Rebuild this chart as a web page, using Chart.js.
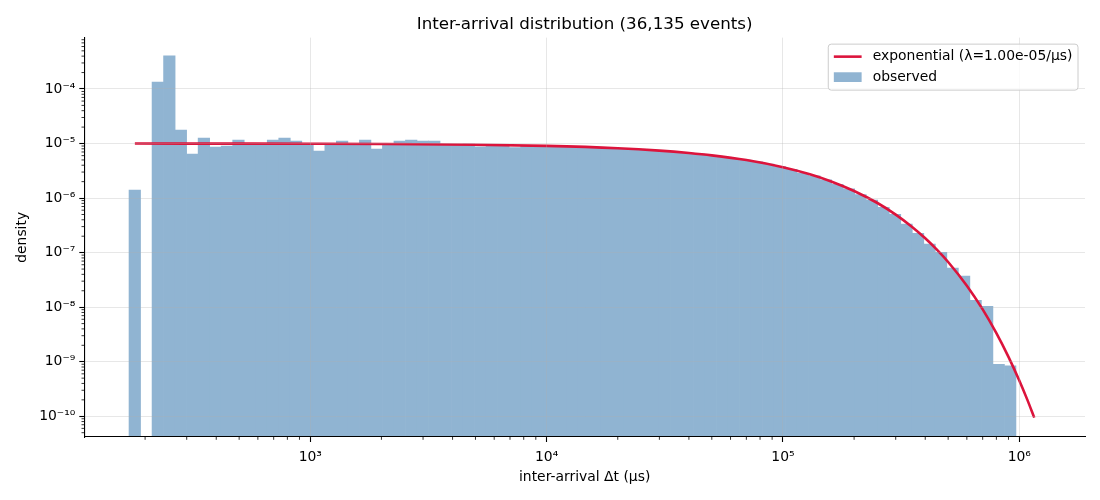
<!DOCTYPE html>
<html>
<head>
<meta charset="utf-8">
<script src="https://cdn.jsdelivr.net/npm/chart.js@4.4.1/dist/chart.umd.min.js"></script>
<style>
  html, body { margin: 0; padding: 0; background: #fff; }
  #wrap { width: 1100px; height: 500px; }
</style>
</head>
<body>
<div id="wrap"><canvas id="myChart" width="1100" height="500"></canvas></div>
<script>
// log-spaced histogram bins (edges from the smallest to the largest gap, in µs)
var binLo = 171;
var binHi = 9.68e5;
var binCount = 77;

// observed density per bin
var observedDensity = [
    1.40e-6, 0, 1.34e-4, 4.04e-4, 1.77e-5, 6.42e-6, 1.26e-5, 8.63e-6, 9.0e-6, 1.16e-5,
    1.0e-5, 1.0e-5, 1.16e-5, 1.26e-5, 1.11e-5, 9.9e-6, 7.28e-6, 9.9e-6, 1.11e-5, 1.0e-5,
    1.16e-5, 7.9e-6, 9.9e-6, 1.11e-5, 1.16e-5, 1.11e-5, 1.11e-5, 9.6e-6, 9.5e-6, 9.8e-6,
    8.74e-6, 9.4e-6, 9.3e-6, 8.4e-6, 9.2e-6, 9.1e-6, 9.0e-6, 8.9e-6, 8.8e-6, 8.2e-6,
    8.5e-6, 8.3e-6, 8.1e-6, 7.95e-6, 7.7e-6, 7.5e-6, 6.9e-6, 7.0e-6, 6.7e-6, 6.4e-6,
    6.05e-6, 5.7e-6, 5.35e-6, 4.98e-6, 4.6e-6, 4.18e-6, 3.77e-6, 3.35e-6, 2.84e-6, 2.55e-6,
    2.17e-6, 1.79e-6, 1.48e-6, 1.16e-6, 9.2e-7, 6.75e-7, 5.02e-7, 3.34e-7, 2.25e-7, 1.43e-7,
    1.01e-7, 5.20e-8, 3.71e-8, 1.34e-8, 1.04e-8, 9.0e-10, 8.4e-10
];

// fitted exponential curve, sampled along x
var fitX = [181, 300, 500, 1000, 2000, 5000, 10000, 20000, 30000, 40000,
    50000, 70000, 100000, 130000, 160000, 200000, 250000, 300000, 350000, 400000,
    450000, 500000, 600000, 700000, 800000, 900000, 1000000, 1080000, 1157000];
var fitY = [9.98e-6, 9.97e-6, 9.95e-6, 9.90e-6, 9.80e-6, 9.51e-6, 9.05e-6, 8.19e-6, 7.41e-6, 6.70e-6,
    6.07e-6, 4.97e-6, 3.68e-6, 2.73e-6, 2.02e-6, 1.35e-6, 8.21e-7, 4.98e-7, 3.02e-7, 1.83e-7,
    1.11e-7, 6.74e-8, 2.48e-8, 9.12e-9, 3.35e-9, 1.23e-9, 4.54e-10, 2.04e-10, 9.44e-11];

var xMajorTicks = [1e3, 1e4, 1e5, 1e6];
var xMajorLabels = ['10³', '10⁴', '10⁵', '10⁶'];
var yMajorTicks = [1e-10, 1e-9, 1e-8, 1e-7, 1e-6, 1e-5, 1e-4];
var yMajorLabels = ['10⁻¹⁰', '10⁻⁹', '10⁻⁸', '10⁻⁷', '10⁻⁶', '10⁻⁵', '10⁻⁴'];

var xRange = [110.6, 1.897e6];
var yRange = [4.17e-11, 8.73e-4];

var fitLabel = 'exponential (λ=1.00e-05/μs)';
var observedLabel = 'observed';
var titleText = 'Inter-arrival distribution (36,135 events)';

// bin centres (geometric mean of the edges)
var logLo = Math.log10(binLo), logHi = Math.log10(binHi);
var binCenters = [];
for (var i = 0; i < binCount; i++) {
    var a = logLo + (logHi - logLo) * i / binCount;
    var b = logLo + (logHi - logLo) * (i + 1) / binCount;
    binCenters.push(Math.pow(10, (a + b) / 2));
}

function minorTicksFor(range) {
    var out = [];
    var d0 = Math.floor(Math.log10(range[0]));
    var d1 = Math.ceil(Math.log10(range[1]));
    for (var d = d0; d <= d1; d++) {
        for (var m = 2; m <= 9; m++) {
            var v = m * Math.pow(10, d);
            if (v >= range[0] && v <= range[1]) out.push(v);
        }
    }
    return out;
}
var xMinorTicks = minorTicksFor(xRange);
var yMinorTicks = minorTicksFor(yRange);

var steel = 'rgb(144, 180, 210)';
var crimson = '#dc143c';
var gridColor = 'rgba(176, 176, 176, 0.3)';

Chart.defaults.font.family = "'DejaVu Sans', sans-serif";
Chart.defaults.color = '#000';

// centre the title over the plot area, like matplotlib does
var titleOverAxes = {
    id: 'titleOverAxes',
    afterLayout: function(chart) {
        var t = chart.titleBlock;
        if (!t) return;
        t.left = chart.chartArea.left;
        t.right = chart.chartArea.right;
        t.width = t.right - t.left;
    }
};

var minorTicks = {
    id: 'minorTicks',
    afterDraw: function(chart) {
        var ctx = chart.ctx, area = chart.chartArea;
        var xs = chart.scales.x, ys = chart.scales.y;
        ctx.save();
        ctx.strokeStyle = '#000';
        ctx.lineWidth = 0.8;
        ctx.beginPath();
        xMinorTicks.forEach(function(v) {
            var p = xs.getPixelForValue(v);
            ctx.moveTo(p, area.bottom);
            ctx.lineTo(p, area.bottom + 2.8);
        });
        yMinorTicks.forEach(function(v) {
            var p = ys.getPixelForValue(v);
            ctx.moveTo(area.left, p);
            ctx.lineTo(area.left - 2.8, p);
        });
        ctx.stroke();
        ctx.restore();
    }
};

// matplotlib-like legend box in the upper right of the plot
var boxLegend = {
    id: 'boxLegend',
    afterDraw: function(chart) {
        var ctx = chart.ctx, area = chart.chartArea;
        var ds = chart.data.datasets;
        var fs = 13.9;
        ctx.save();
        ctx.font = fs + "px 'DejaVu Sans', sans-serif";
        var labels = [ds[0].label, ds[1].label];
        var textW = Math.max(ctx.measureText(labels[0]).width, ctx.measureText(labels[1]).width);
        var pad = 0.4 * fs, handleW = 2 * fs, gap = 0.8 * fs;
        var w = pad + handleW + gap + textW + pad;
        var h = 46;
        var right = area.right - 7, top = area.top + 6.5;
        var left = right - w;

        ctx.beginPath();
        ctx.roundRect(left, top, w, h, 3);
        ctx.fillStyle = 'rgba(255,255,255,0.8)';
        ctx.fill();
        ctx.strokeStyle = '#cccccc';
        ctx.lineWidth = 1;
        ctx.stroke();

        var hx = left + pad, tx = hx + handleW + gap;
        var row1 = top + 12.5, row2 = top + 33;

        ctx.beginPath();
        ctx.moveTo(hx, row1);
        ctx.lineTo(hx + handleW, row1);
        ctx.strokeStyle = ds[0].borderColor;
        ctx.lineWidth = ds[0].borderWidth;
        ctx.stroke();

        ctx.fillStyle = ds[1].backgroundColor;
        ctx.fillRect(hx, row2 - 0.35 * fs, handleW, 0.7 * fs);

        ctx.fillStyle = '#000';
        ctx.textBaseline = 'middle';
        ctx.textAlign = 'left';
        ctx.fillText(labels[0], tx, row1);
        ctx.fillText(labels[1], tx, row2);
        ctx.restore();
    }
};

var ctx = document.getElementById('myChart').getContext('2d');
var chart = new Chart(ctx, {
    type: 'bar',
    data: {
        datasets: [{
            type: 'line',
            label: fitLabel,
            data: fitX.map(function(x, i) { return { x: x, y: fitY[i] }; }),
            borderColor: crimson,
            borderWidth: 2.6,
            pointRadius: 0,
            fill: false,
            cubicInterpolationMode: 'monotone',
            order: 0
        }, {
            type: 'bar',
            label: observedLabel,
            data: observedDensity.map(function(v, i) { return { x: binCenters[i], y: v }; }),
            backgroundColor: steel,
            borderWidth: 0,
            barPercentage: 1.0,
            categoryPercentage: 1.0,
            order: 1
        }]
    },
    options: {
        responsive: false,
        animation: false,
        layout: {
            padding: { left: 0, right: 15, top: 0, bottom: 0 }
        },
        plugins: {
            legend: { display: false },
            tooltip: { enabled: false },
            title: {
                display: true,
                text: titleText,
                color: '#000',
                font: { size: 16.7, weight: 'normal' },
                padding: { top: 15, bottom: 2.6 }
            }
        },
        scales: {
            x: {
                type: 'logarithmic',
                min: xRange[0],
                max: xRange[1],
                offset: false,
                afterBuildTicks: function(scale) {
                    scale.ticks = xMajorTicks.map(function(v) { return { value: v }; });
                },
                afterFit: function(scale) { scale.height = 63; },
                ticks: {
                    autoSkip: false,
                    maxRotation: 0,
                    padding: 7,
                    font: { size: 13.9 },
                    color: '#000',
                    callback: function(value) {
                        var k = xMajorTicks.indexOf(value);
                        return k >= 0 ? xMajorLabels[k] : '';
                    }
                },
                grid: {
                    offset: false,
                    z: 1,
                    color: gridColor,
                    lineWidth: 1,
                    drawTicks: true,
                    tickLength: 5,
                    tickWidth: 1.1,
                    tickColor: '#000'
                },
                border: { display: true, color: '#000', width: 1.1, z: 2 },
                title: {
                    display: true,
                    text: 'inter-arrival Δt (μs)',
                    font: { size: 13.9 },
                    color: '#000',
                    padding: { top: 0, bottom: 14 }
                }
            },
            y: {
                type: 'logarithmic',
                min: yRange[0],
                max: yRange[1],
                afterBuildTicks: function(scale) {
                    scale.ticks = yMajorTicks.map(function(v) { return { value: v }; });
                },
                afterFit: function(scale) { scale.width = 84.3; },
                ticks: {
                    autoSkip: false,
                    padding: 4,
                    font: { size: 13.9 },
                    color: '#000',
                    callback: function(value) {
                        for (var k = 0; k < yMajorTicks.length; k++) {
                            if (Math.abs(value / yMajorTicks[k] - 1) < 1e-6) return yMajorLabels[k];
                        }
                        return '';
                    }
                },
                grid: {
                    z: 1,
                    color: gridColor,
                    lineWidth: 1,
                    drawTicks: true,
                    tickLength: 5,
                    tickWidth: 1.1,
                    tickColor: '#000'
                },
                border: { display: true, color: '#000', width: 1.1, z: 2 },
                title: {
                    display: true,
                    text: 'density',
                    font: { size: 13.9 },
                    color: '#000',
                    padding: { top: 13.6, bottom: 0 }
                }
            }
        }
    },
    plugins: [titleOverAxes, minorTicks, boxLegend]
});
</script>
</body>
</html>
